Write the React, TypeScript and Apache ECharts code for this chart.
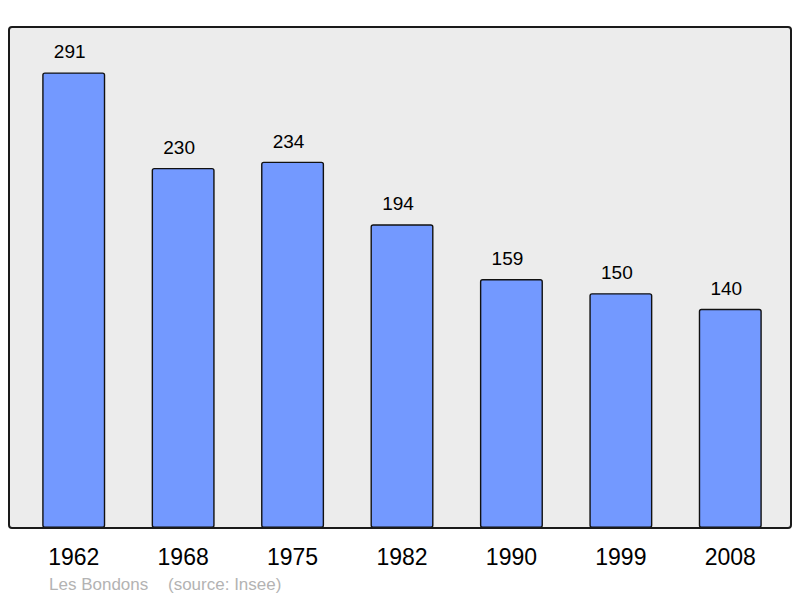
import React, { useEffect, useRef } from "react";
import * as echarts from "echarts";

const years = ["1962", "1968", "1975", "1982", "1990", "1999", "2008"];
const population = [291, 230, 234, 194, 159, 150, 140];
const placeName = "Les Bondons";
const sourceText = "(source: Insee)";

const FONT = "'Liberation Sans', Arial, sans-serif";

export default function App() {
  const ref = useRef<HTMLDivElement>(null);
  useEffect(() => {
    if (!ref.current) return;
    const chart = echarts.init(ref.current, undefined, { renderer: "svg" });
    chart.setOption({
      animation: false,
      grid: { left: 19, right: 15, top: 27, bottom: 70, containLabel: false },
      xAxis: {
        type: "category",
        data: years,
        axisLine: { show: false },
        axisTick: { show: false },
        axisLabel: { color: "#000", fontSize: 23, fontFamily: FONT, margin: 17, offset: 0 },
      },
      yAxis: {
        type: "value",
        min: 0,
        max: 320,
        show: false,
        splitLine: { show: false },
      },
      graphic: [
        {
          type: "rect",
          z: -10,
          shape: { x: 9, y: 27, width: 782, height: 501, r: 3 },
          style: { fill: "#ececec", stroke: "none" },
        },
        {
          type: "rect",
          z: 100,
          shape: { x: 9, y: 27, width: 782, height: 501, r: 3 },
          style: { fill: "none", stroke: "#1a1a1a", lineWidth: 2 },
        },
        {
          type: "text",
          x: 49,
          y: 584,
          style: {
            text: placeName,
            fill: "#b3b3b3",
            fontSize: 17,
            fontFamily: FONT,
            verticalAlign: "middle",
          },
        },
        {
          type: "text",
          x: 168,
          y: 584,
          style: {
            text: sourceText,
            fill: "#b3b3b3",
            fontSize: 17,
            fontFamily: FONT,
            verticalAlign: "middle",
          },
        },
      ],
      series: [
        {
          type: "bar",
          data: population,
          barWidth: 63,
          itemStyle: {
            color: "#7399ff",
            borderColor: "#111",
            borderWidth: 1.4,
            borderRadius: 2,
          },
          label: {
            show: true,
            position: "top",
            distance: 11,
            offset: [-4, 0],
            color: "#000",
            fontSize: 19,
            fontFamily: FONT,
          },
        },
      ],
    });
    return () => chart.dispose();
  }, []);
  return <div ref={ref} style={{ width: 800, height: 598, position: "absolute", left: 0, top: 0 }} />;
}
